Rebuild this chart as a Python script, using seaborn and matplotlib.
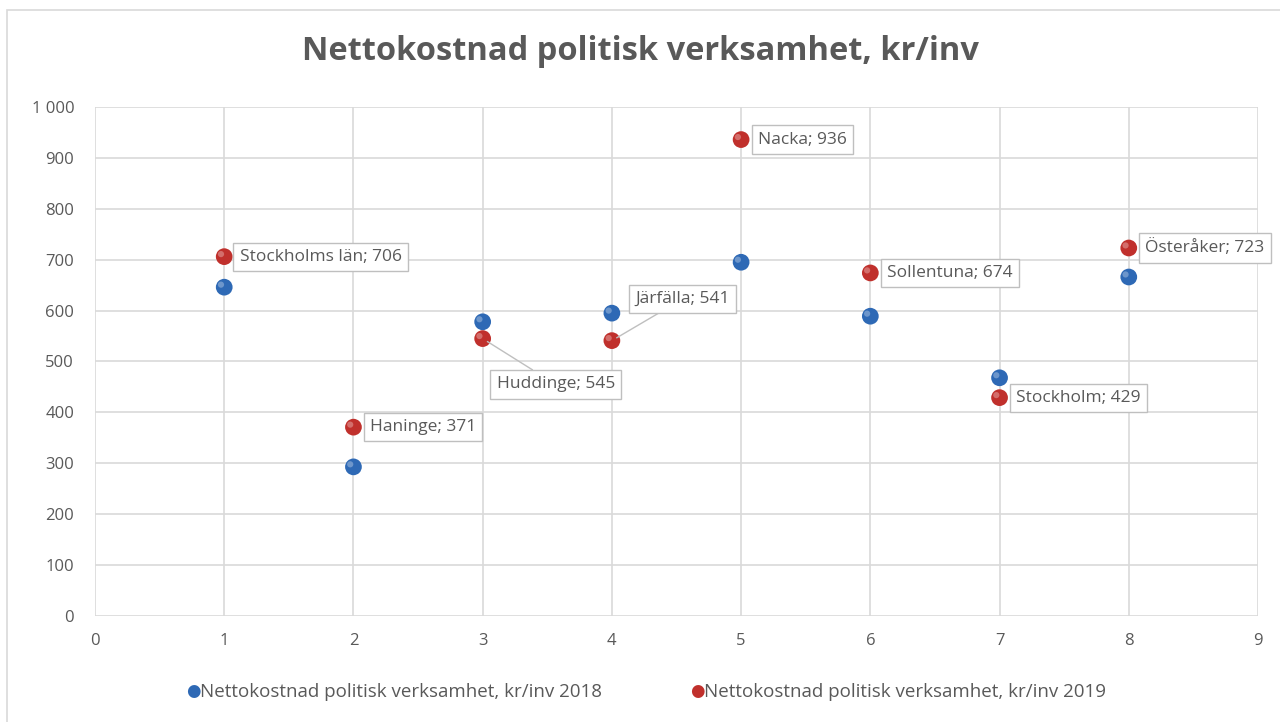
import numpy as np
import pandas as pd
import matplotlib
matplotlib.use("Agg")
import matplotlib.pyplot as plt
import seaborn as sns
from matplotlib.patches import Rectangle

# data
x_pos = [1, 2, 3, 4, 5, 6, 7, 8]
kommuner = ["Stockholms län", "Haninge", "Huddinge", "Järfälla",
            "Nacka", "Sollentuna", "Stockholm", "Österåker"]
cost_2018 = [646, 293, 578, 595, 695, 589, 468, 666]
cost_2019 = [706, 371, 545, 541, 936, 674, 429, 723]
label_2018 = "Nettokostnad politisk verksamhet, kr/inv 2018"
label_2019 = "Nettokostnad politisk verksamhet, kr/inv 2019"

df = pd.DataFrame({
    "x": x_pos * 2,
    "y": cost_2018 + cost_2019,
    "serie": [label_2018] * 8 + [label_2019] * 8,
})

sns.set_style("white")
plt.rcParams["font.family"] = ["Open Sans", "DejaVu Sans"]
grey = "#595959"
grid_c = "#D9D9D9"

fig = plt.figure(figsize=(12.8, 7.22), dpi=100)
ax = fig.add_axes([95 / 1280, 1 - 616 / 722, (1258 - 95) / 1280, (616 - 107) / 722])

# outer chart border (runs off the right and bottom edges)
fig.patches.append(Rectangle((7 / 1280, -0.1), 1.2, 1.1 - 10 / 722, transform=fig.transFigure,
                             fill=False, edgecolor=grid_c, linewidth=1.2, zorder=0))

palette = {label_2018: "#2E69B5", label_2019: "#C0302C"}
sns.scatterplot(data=df, x="x", y="y", hue="serie", palette=palette, s=145,
                edgecolor="none", ax=ax, legend=False, zorder=3)
# little highlight to fake the glossy spheres
ax.scatter(np.array(x_pos) - 0.025, np.array(cost_2018) + 5, s=20, color="white", alpha=0.3,
           edgecolor="none", zorder=4)
ax.scatter(np.array(x_pos) - 0.025, np.array(cost_2019) + 5, s=20, color="white", alpha=0.3,
           edgecolor="none", zorder=4)

ax.set_xlim(0, 9)
ax.set_ylim(0, 1000)
ax.set_xticks(range(0, 10))
ax.set_yticks(range(0, 1001, 100))
ax.set_yticklabels([f"{v:,}".replace(",", " ") for v in range(0, 1001, 100)])
ax.grid(True, color=grid_c, linewidth=1.2)
ax.set_axisbelow(True)
for s in ax.spines.values():
    s.set_visible(False)
ax.tick_params(axis="both", length=0, labelsize=12, labelcolor=grey)
ax.tick_params(axis="y", pad=15)
ax.tick_params(axis="x", pad=12)
ax.set_xlabel("")
ax.set_ylabel("")

# data labels (offsets in points)
offsets = {
    "Stockholms län": (11, 0), "Haninge": (12, 0), "Huddinge": (10, -33),
    "Järfälla": (17, 30), "Nacka": (12, 0), "Sollentuna": (12, 0),
    "Stockholm": (12, 0), "Österåker": (12, 0),
}
box = dict(boxstyle="square,pad=0.35", facecolor="white", edgecolor="#BFBFBF", linewidth=1)
for xi, yi, name in zip(x_pos, cost_2019, kommuner):
    dx, dy = offsets[name]
    arrow = None
    if dy != 0:
        arrow = dict(arrowstyle="-", color="#BFBFBF", linewidth=1, shrinkA=0, shrinkB=4)
    ax.annotate(f"{name}; {yi}", xy=(xi, yi), xytext=(dx, dy), textcoords="offset points",
                ha="left", va="center", fontsize=12.5, color=grey, bbox=box,
                arrowprops=arrow, zorder=5, annotation_clip=False)

fig.text(0.5, 1 - 52 / 722, "Nettokostnad politisk verksamhet, kr/inv", ha="center", va="center",
         fontsize=23.5, fontweight="bold", color=grey)

# legend
for lbl, xl in [(label_2018, 186), (label_2019, 690)]:
    fig.text(xl / 1280, 1 - 692 / 722, "\u25CF", color=palette[lbl], fontsize=12,
             ha="left", va="center")
    fig.text((xl + 14) / 1280, 1 - 692 / 722, lbl, color=grey, fontsize=13.5,
             ha="left", va="center")

fig.savefig("out.png", dpi=100)
